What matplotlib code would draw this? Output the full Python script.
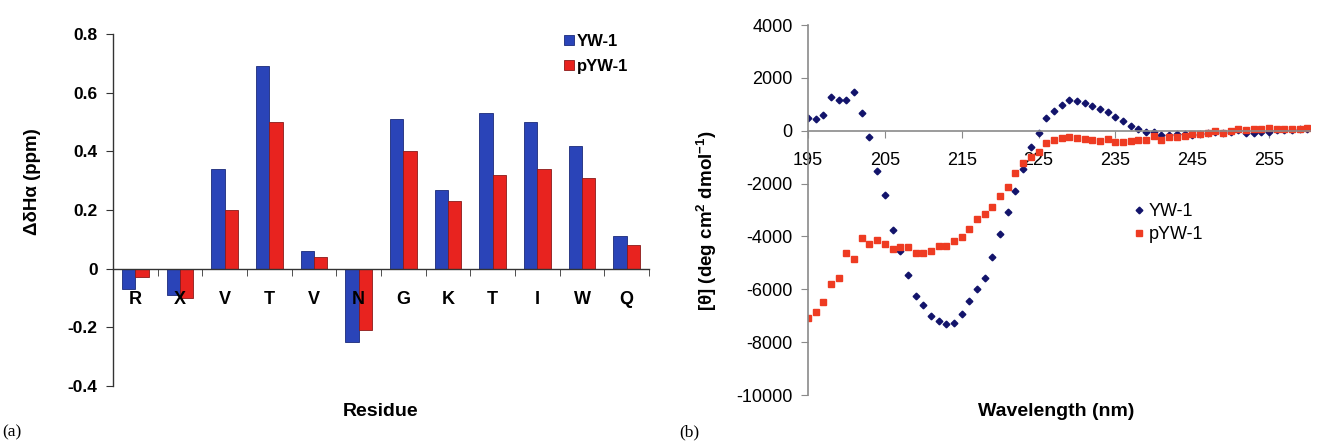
import matplotlib.pyplot as plt
import numpy as np

residues = ["R", "X", "V", "T", "V", "N", "G", "K", "T", "I", "W", "Q"]
yw1_shift = [-0.07, -0.09, 0.34, 0.69, 0.06, -0.25, 0.51, 0.27, 0.53, 0.50, 0.42, 0.11]
pyw1_shift = [-0.03, -0.10, 0.20, 0.50, 0.04, -0.21, 0.40, 0.23, 0.32, 0.34, 0.31, 0.08]

wavelength = np.arange(195, 261)
yw1_cd = [500, 430, 600, 1280, 1180, 1180, 1450, 680, -250, -1510,
          -2450, -3750, -4550, -5460, -6240, -6600, -7000, -7200, -7300, -7280,
          -6950, -6450, -5980, -5580, -4780, -3920, -3070, -2270, -1450, -620,
          -90, 470, 740, 990, 1150, 1120, 1040, 950, 830, 710,
          530, 350, 190, 50, -50, -30, -150, -160, -130, -110,
          -150, -130, -100, -60, -80, -30, 20, -80, -70, -60,
          -50, 20, 40, 30, 50, 60]
pyw1_cd = [-7100, -6850, -6470, -5800, -5580, -4610, -4860, -4050, -4300, -4120,
           -4280, -4460, -4400, -4400, -4610, -4610, -4550, -4370, -4370, -4190,
           -4030, -3720, -3350, -3160, -2880, -2480, -2130, -1610, -1240, -990,
           -800, -470, -350, -270, -250, -270, -300, -350, -400, -320,
           -430, -430, -400, -370, -350, -190, -350, -250, -220, -200,
           -120, -120, -100, -20, -70, 0, 70, 40, 50, 50,
           110, 70, 70, 70, 70, 110]

plt.rcParams['font.family'] = ['Liberation Sans', 'DejaVu Sans']
plt.rcParams['mathtext.fontset'] = 'custom'
plt.rcParams['mathtext.rm'] = 'Liberation Sans:bold'
plt.rcParams['mathtext.default'] = 'rm'
plt.rcParams['axes.unicode_minus'] = False

fig = plt.figure(figsize=(13.17, 4.41), dpi=100)

# (a) bar chart
ax1 = fig.add_axes([0.0858, 0.1247, 0.407, 0.798])
x = np.arange(len(residues))
w = 0.3
ax1.bar(x - w / 2, yw1_shift, w, color='#2a44b8', edgecolor='#1b2a7a', linewidth=0.6, label='YW-1')
ax1.bar(x + w / 2, pyw1_shift, w, color='#e8231f', edgecolor='#8a1a1a', linewidth=0.6, label='pYW-1')
ax1.set_xlim(-0.5, len(residues) - 0.5)
ax1.set_ylim(-0.4, 0.8)
ax1.spines['top'].set_visible(False)
ax1.spines['right'].set_visible(False)
ax1.spines['bottom'].set_position(('data', 0))
for sp in ['left', 'bottom']:
    ax1.spines[sp].set_color('#333333')
    ax1.spines[sp].set_linewidth(1.0)
ax1.set_xticks(x)
ax1.set_xticklabels(residues, fontsize=13, fontweight='bold')
ax1.set_xticks(np.arange(-0.5, len(residues)), minor=True)
ax1.tick_params(axis='x', which='major', length=0, pad=16)
ax1.tick_params(axis='x', which='minor', length=5, direction='out', color='#333333')
yt = [-0.4, -0.2, 0, 0.2, 0.4, 0.6, 0.8]
ax1.set_yticks(yt)
ax1.set_yticklabels(['-0.4', '-0.2', '0', '0.2', '0.4', '0.6', '0.8'], fontsize=12.5, fontweight='bold')
ax1.tick_params(axis='y', length=5, direction='out', color='#333333', pad=6)
ax1.set_ylabel('ΔδHα (ppm)', fontsize=13.5, fontweight='bold')
ax1.yaxis.set_label_coords(-0.135, 0.58)
ax1.legend(loc='upper left', bbox_to_anchor=(0.417, 0.957), bbox_transform=fig.transFigure,
           frameon=False, handlelength=0.6, handleheight=0.6, handletextpad=0.15,
           labelspacing=0.6, prop={'weight': 'bold', 'size': 12})
fig.text(381 / 1317, 1 - 412 / 441, 'Residue', ha='center', va='center', fontsize=14, fontweight='bold')
fig.text(0.002, 1 - 432 / 441, '(a)', ha='left', va='center', fontsize=12.5, family='Liberation Serif')

# (b) CD spectrum
ax2 = fig.add_axes([0.6135, 0.1043, 0.381, 0.839])
ax2.plot(wavelength, yw1_cd, linestyle='none', marker='D', markersize=3.4, color='#12136b', label='YW-1')
ax2.plot(wavelength, pyw1_cd, linestyle='none', marker='s', markersize=4.5, color='#ee3b22', label='pYW-1')
ax2.set_xlim(195, 260.3)
ax2.set_ylim(-10000, 4000)
ax2.spines['top'].set_visible(False)
ax2.spines['right'].set_visible(False)
ax2.spines['bottom'].set_position(('data', 0))
for sp in ['left', 'bottom']:
    ax2.spines[sp].set_color('#8a8a8a')
    ax2.spines[sp].set_linewidth(1.2)
ax2.set_xticks(np.arange(195, 260, 10))
ax2.set_yticks(np.arange(-10000, 4001, 2000))
ax2.tick_params(axis='both', length=5, direction='out', color='#8a8a8a', labelsize=13)
ax2.tick_params(axis='x', pad=10)
ax2.tick_params(axis='y', pad=6)
ax2.set_ylabel('[θ] (deg cm$^2$ dmol$^{-1}$)', fontsize=13.5, fontweight='bold')
ax2.yaxis.set_label_coords(-0.178, 0.47)
ax2.legend(loc='center left', bbox_to_anchor=(0.849, 1 - 223 / 441), bbox_transform=fig.transFigure,
           frameon=False, handlelength=0.5, handletextpad=0.3, numpoints=1,
           labelspacing=0.35, fontsize=13)
fig.text(1056 / 1317, 1 - 412 / 441, 'Wavelength (nm)', ha='center', va='center', fontsize=14, fontweight='bold')
fig.text(679 / 1317, 1 - 432 / 441, '(b)', ha='left', va='center', fontsize=12.5, family='Liberation Serif')

fig.savefig('out.png', dpi=100)
